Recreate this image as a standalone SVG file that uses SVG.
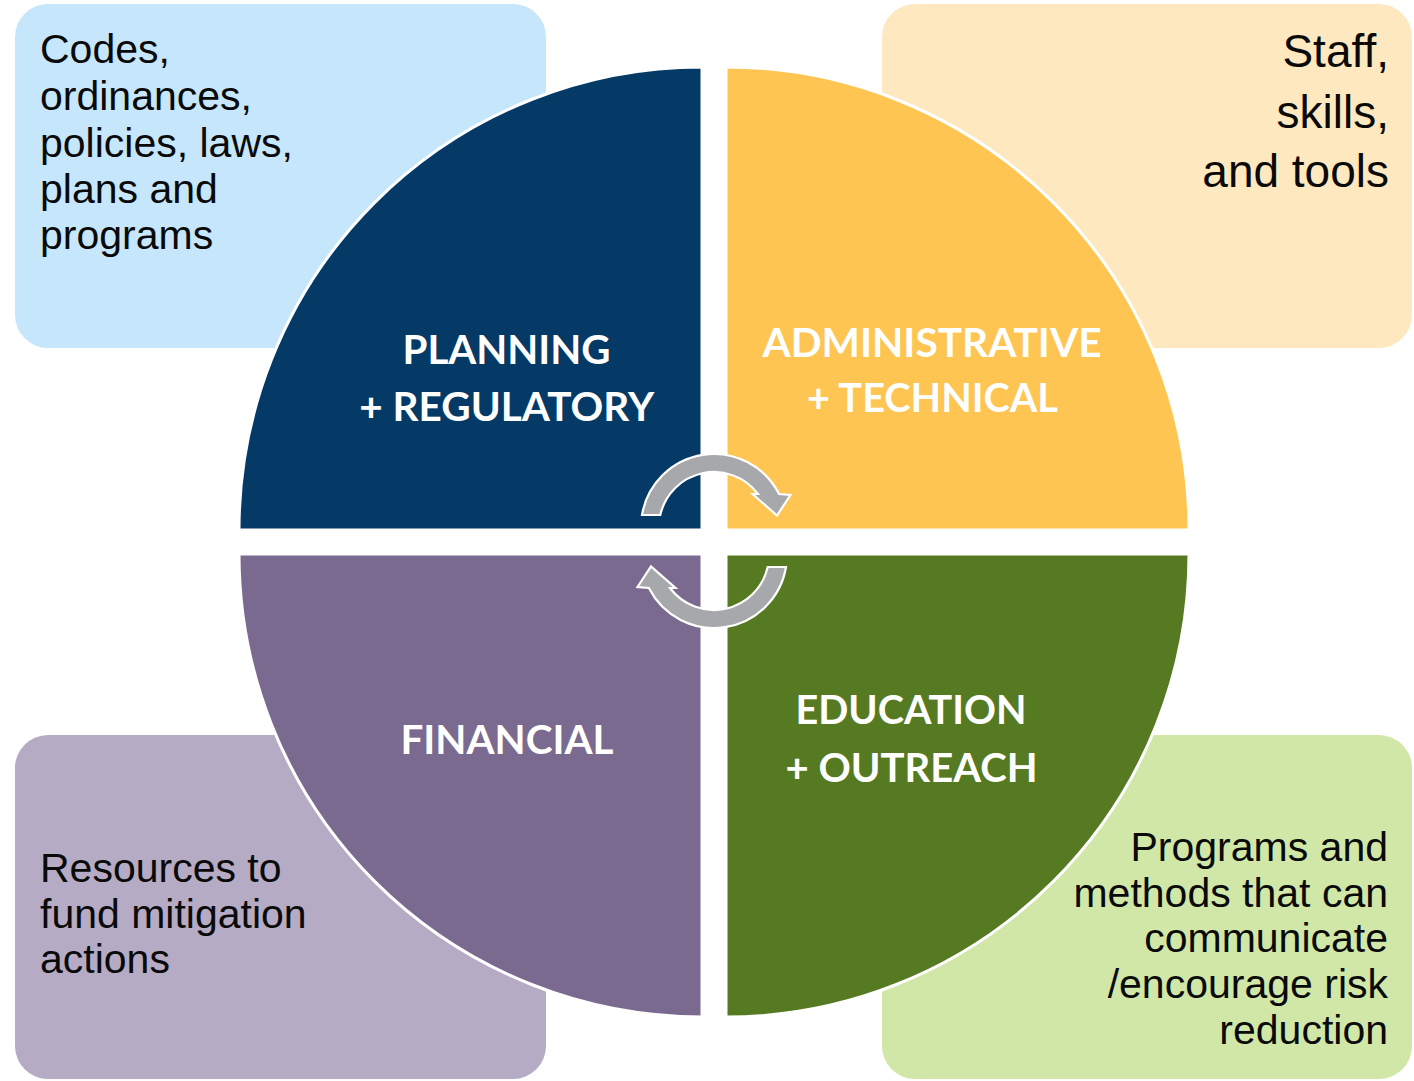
<svg xmlns="http://www.w3.org/2000/svg" width="1414" height="1081" viewBox="0 0 1414 1081">
<style>
.box{stroke:none}
.q{stroke:#ffffff;stroke-width:3}
.desc{font-family:"Liberation Sans",Arial,sans-serif;font-size:41px;fill:#0a0a0a}
.lbl{font-family:Lato,"Open Sans","Liberation Sans",sans-serif;font-weight:700;font-size:40px;fill:#ffffff;text-anchor:middle}
.arrow{fill:#a7a8ab;stroke:#ffffff;stroke-width:2.2;stroke-linejoin:miter}
</style>
<defs>
<path id="cyc" d="M642,515 A73,73 0 0 1 779.1,494 L790.5,495 L777,515.5 L752.5,494 L758,494 A55,55 0 0 0 660.3,515 Z"/>
</defs>
<rect width="1414" height="1081" fill="#ffffff"/>

<g id="box-planning">
<rect class="box" x="15" y="4" width="531" height="344" rx="33" fill="#c6e6fb"/>
<text class="desc" x="40"><tspan x="40" y="63">Codes,</tspan><tspan x="40" y="110">ordinances,</tspan><tspan x="40" y="157">policies, laws,</tspan><tspan x="40" y="203">plans and</tspan><tspan x="40" y="249">programs</tspan></text>
</g>
<g id="box-admin">
<rect class="box" x="882" y="4" width="530" height="344" rx="33" fill="#fee8bf"/>
<text class="desc" style="font-size:46px;text-anchor:end"><tspan x="1389" y="67">Staff,</tspan><tspan x="1389" y="128">skills,</tspan><tspan x="1389" y="187">and tools</tspan></text>
</g>
<g id="box-financial">
<rect class="box" x="15" y="735" width="531" height="344" rx="33" fill="#b5abc5"/>
<text class="desc"><tspan x="40" y="882">Resources to</tspan><tspan x="40" y="928">fund mitigation</tspan><tspan x="40" y="973">actions</tspan></text>
</g>
<g id="box-education">
<rect class="box" x="882" y="735" width="530" height="344" rx="33" fill="#d0e7a8"/>
<text class="desc" style="text-anchor:end"><tspan x="1388" y="861">Programs and</tspan><tspan x="1388" y="907">methods that can</tspan><tspan x="1388" y="952">communicate</tspan><tspan x="1388" y="998">/encourage risk</tspan><tspan x="1388" y="1044">reduction</tspan></text>
</g>

<g id="q-planning">
<path class="q" d="M702,530 L239,530 A463,463 0 0 1 702,67 Z" fill="#053a66"/>
<text class="lbl"><tspan x="506.5" y="364" textLength="208" lengthAdjust="spacingAndGlyphs">PLANNING</tspan><tspan x="506.7" y="421" textLength="295" lengthAdjust="spacingAndGlyphs">+ REGULATORY</tspan></text>
</g>
<g id="q-admin">
<path class="q" d="M726,530 L726,67 A463,463 0 0 1 1189,530 Z" fill="#fec552"/>
<text class="lbl"><tspan x="932" y="357" textLength="339" lengthAdjust="spacingAndGlyphs">ADMINISTRATIVE</tspan><tspan x="932.4" y="412" textLength="251" lengthAdjust="spacingAndGlyphs">+ TECHNICAL</tspan></text>
</g>
<g id="q-financial">
<path class="q" d="M702,554 L702,1017 A463,463 0 0 1 239,554 Z" fill="#7b6a8f"/>
<text class="lbl"><tspan x="507" y="754" textLength="213" lengthAdjust="spacingAndGlyphs">FINANCIAL</tspan></text>
</g>
<g id="q-education">
<path class="q" d="M726,554 L1189,554 A463,463 0 0 1 726,1017 Z" fill="#567a21"/>
<text class="lbl"><tspan x="911" y="724" textLength="231" lengthAdjust="spacingAndGlyphs">EDUCATION</tspan><tspan x="911.5" y="782" textLength="252" lengthAdjust="spacingAndGlyphs">+ OUTREACH</tspan></text>
</g>

<g id="connectors">
<use href="#cyc" class="arrow"/>
<use href="#cyc" class="arrow" transform="rotate(180 714 541)"/>
</g>
</svg>
